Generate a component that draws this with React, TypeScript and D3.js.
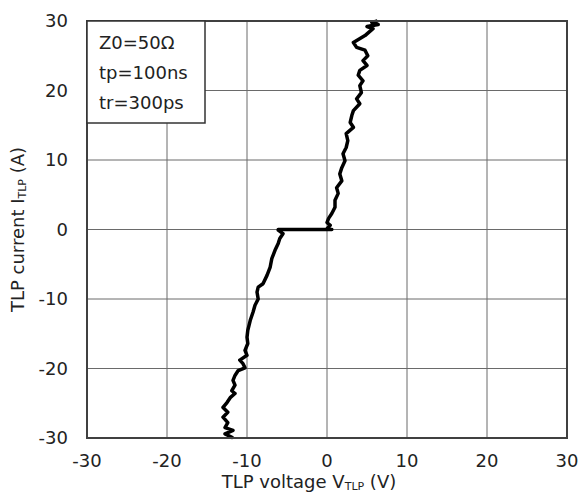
import React from "react";
import * as d3 from "d3";

const xTicks = [-30, -20, -10, 0, 10, 20, 30];
const yTicks = [-30, -20, -10, 0, 10, 20, 30];
const legendLines = ["Z0=50Ω", "tp=100ns", "tr=300ps"];

// TLP voltage (V) and current (A), from the bottom-left end to the top-right end
const voltage = [
  -11.75, -11.9, -12.75, -11.75, -12.75, -12.4, -13, -12.4, -13, -12.5, -12.1, -11.5, -11.9, -11.5, -11.75, -11.5, -11.1,
  -10.25, -10.5, -10.9, -10, -10.25, -9.9, -10, -9.9, -9.6, -9.25, -9, -8.6, -8.75, -8.6, -8, -7.5, -7.1, -6.9, -6.5,
  -6.1, -5.9, -5.5, -6.1, -6.1, 0.6, 0, 0.4, 0, 0.2, 0.6, 1.0, 1.0, 1.4, 1.2, 1.85, 1.6, 1.85, 2.25, 2.0, 2.4, 2.6, 2.4,
  3.3, 2.9, 3.1, 3.3, 4.1, 3.7, 4.3, 4.1, 4.5, 3.9, 4.1, 5.0, 4.5, 5.1, 4.75, 3.7, 3.3, 4.75, 5.75, 5.0, 6.4, 5.6, 6.3,
];
const current = [
  -30, -29.9, -29.4, -28.9, -28.5, -27.8, -27, -26.3, -25.6, -24.9, -24.2, -23.6, -23.2, -22.4, -21.7, -21, -20.3,
  -19.9, -19.3, -18.8, -18.1, -17.4, -16.4, -15.5, -14.5, -13.1, -11.9, -10.9, -10, -9, -8.3, -7.8, -6.6, -5.4, -4.2, -3,
  -2, -1.3, -0.6, -0.1, 0, 0, 0.1, 0.6, 1.0, 1.6, 2.3, 3.2, 4.2, 5.2, 6.0, 7.0, 8.0, 8.9, 9.9, 10.9, 11.8, 12.8, 13.8,
  14.7, 15.4, 16.4, 17.1, 18.1, 18.8, 19.7, 20.7, 21.4, 22.2, 22.9, 23.6, 24.3, 25, 25.8, 26.2, 26.9, 27.9, 28.9, 29.2, 29.5, 29.8, 30,
];

const W = 580;
const H = 493;
const L = 87, R = 567, T = 21, B = 438;
const FONT = "'DejaVu Sans', Verdana, sans-serif";

export default function App() {
  const x = d3.scaleLinear().domain([-30, 30]).range([L, R]);
  const y = d3.scaleLinear().domain([-30, 30]).range([B, T]);
  const pts: [number, number][] = voltage.map((v, i) => [v, current[i]]);
  const line = d3
    .line<[number, number]>()
    .x((d) => x(d[0]))
    .y((d) => y(d[1]));

  return (
    <svg
      width={W}
      height={H}
      style={{ position: "absolute", left: 0, top: 0, background: "#fff" }}
      fontFamily={FONT}
    >
      <rect x={0} y={0} width={W} height={H} fill="#fff" />
      {xTicks.slice(1, -1).map((t) => (
        <line key={"gx" + t} x1={x(t)} x2={x(t)} y1={T} y2={B} stroke="#6a6a6a" strokeWidth={1} />
      ))}
      {yTicks.slice(1, -1).map((t) => (
        <line key={"gy" + t} x1={L} x2={R} y1={y(t)} y2={y(t)} stroke="#6a6a6a" strokeWidth={1} />
      ))}
      <path d={line(pts) ?? ""} fill="none" stroke="#000" strokeWidth={3.5} strokeLinejoin="round" />
      <rect x={L} y={T} width={R - L} height={B - T} fill="none" stroke="#404040" strokeWidth={2} />
      <rect x={L} y={T} width={118} height={102} fill="#fff" stroke="#333" strokeWidth={1.5} />
      {legendLines.map((s, i) => (
        <text key={s} x={99} y={49 + i * 30} fontSize={18} fill="#222">
          {s}
        </text>
      ))}
      {yTicks.map((t) => (
        <text key={"yt" + t} x={68} y={y(t)} dy="0.36em" textAnchor="end" fontSize={18} fill="#222">
          {t}
        </text>
      ))}
      {xTicks.map((t) => (
        <text key={"xt" + t} x={x(t)} y={467} textAnchor="middle" fontSize={18} fill="#222">
          {t}
        </text>
      ))}
      <text x={(L + R) / 2 - 18} y={488} textAnchor="middle" fontSize={18} fill="#222">
        TLP voltage V<tspan fontSize={11} dy={2}>TLP</tspan>
        <tspan dy={-2}> (V)</tspan>
      </text>
      <text
        transform={`translate(24,${(T + B) / 2}) rotate(-90)`}
        textAnchor="middle"
        fontSize={18}
        fill="#222"
      >
        TLP current I<tspan fontSize={11} dy={2}>TLP</tspan>
        <tspan dy={-2}> (A)</tspan>
      </text>
    </svg>
  );
}
